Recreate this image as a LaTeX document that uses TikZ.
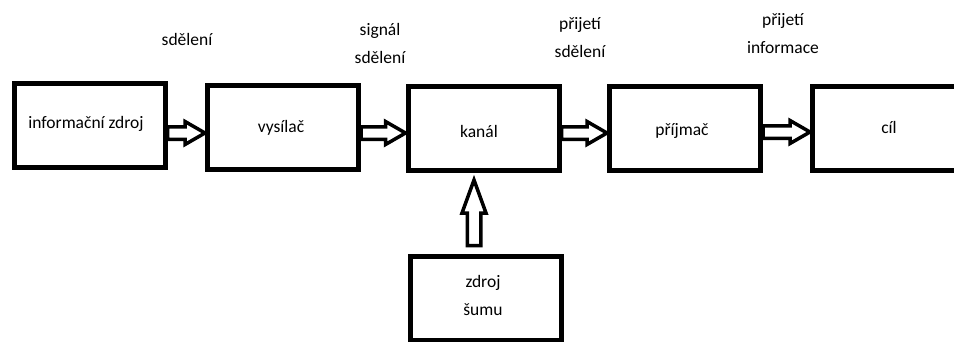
\documentclass[tikz,border=0pt]{standalone}
\usepackage{fontspec}
\setmainfont{Carlito}
\usetikzlibrary{calc}

\begin{document}
\begin{tikzpicture}[x=1pt,y=-1pt,
    box/.style={draw, line width=5pt, minimum width=151pt, minimum height=84pt, inner sep=0pt},
    hollow/.style={draw, line width=3.5pt, fill=white, line join=miter},
    txt/.style={anchor=base, inner sep=0pt, align=center, font=\fontsize{17.5}{28}\selectfont}]
    \useasboundingbox (0,0) rectangle (954,341);
    % bloky
    \node[box] (src) at (89.5,125.5) {};
    \node[box] (tx) at (283,127.5) {};
    \node[box] (ch) at (483.5,128.5) {};
    \node[box] (rx) at (685,128) {};
    \node[box] (dest) at (888,128.5) {};
    \node[box] (noise) at (485.5,298) {};
    % texty v blocich (u dvou radku je base na poslednim radku)
    \node[txt] (tsrc) at (86,128) {informační zdroj};
    \node[txt] (ttx) at (281,132) {vysílač};
    \node[txt] (tch) at (479,137) {kanál};
    \node[txt] (trx) at (682,135) {příjmač};
    \node[txt] (tdest) at (889,133) {cíl};
    \node[txt] (tnoise) at (483,315) {zdroj\\šumu};
    % popisky nad sipkami
    \node[txt] (lsd) at (187,45) {sdělení};
    \node[txt] (lsig) at (380,63) {signál\\sdělení};
    \node[txt] (lpsd) at (580,57) {přijetí\\sdělení};
    \node[txt] (lpin) at (783,53) {přijetí\\informace};
    % duté šipky
    \foreach \a/\b/\yy in {src/tx/133, tx/ch/133, ch/rx/133, rx/dest/132}
        \draw[hollow] let \p1=(\a.east), \p2=(\b.west), \p3=(0,\yy) in
            (\x1,\y3+6.25pt) -- (\x2-20pt,\y3+6.25pt) -- (\x2-20pt,\y3+11.5pt) -- (\x2,\y3)
            -- (\x2-20pt,\y3-11.5pt) -- (\x2-20pt,\y3-6.25pt) -- (\x1,\y3-6.25pt) -- cycle;
    \draw[hollow] let \p1=(noise.north), \p2=(ch.south), \p3=(474,0) in
        (\x3-6.75pt,\y1+8pt) -- (\x3-6.75pt,\y2-40pt) -- (\x3-12pt,\y2-40pt) -- (\x3,\y2-7pt)
        -- (\x3+12pt,\y2-40pt) -- (\x3+6.75pt,\y2-40pt) -- (\x3+6.75pt,\y1+8pt) -- cycle;
\end{tikzpicture}
\end{document}
